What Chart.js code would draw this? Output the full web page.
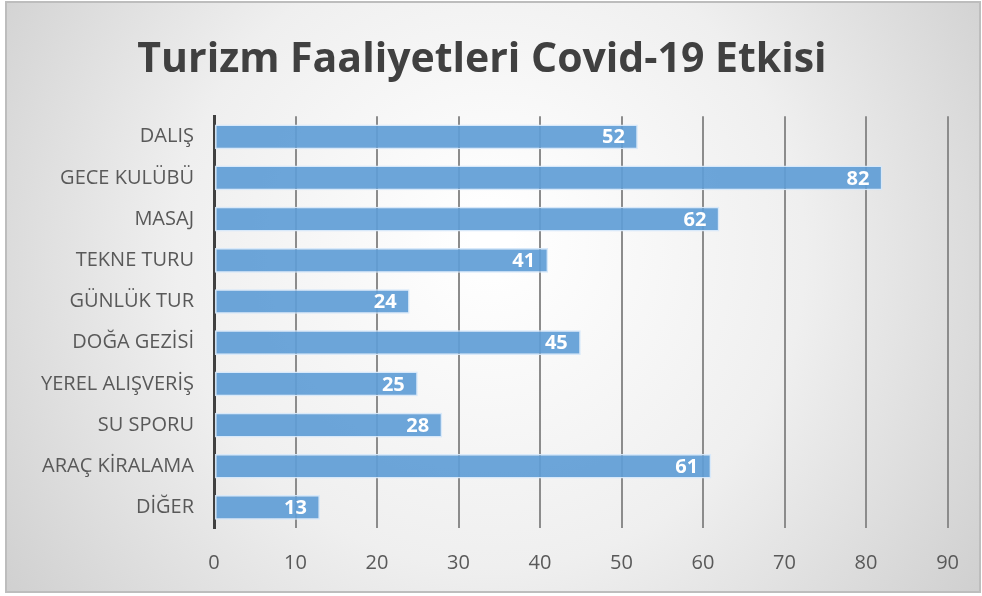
<!DOCTYPE html>
<html>
<head>
<meta charset="utf-8">
<script src="https://cdn.jsdelivr.net/npm/chart.js@4"></script>
<style>
  html, body { margin: 0; padding: 0; background: #ffffff; }
  #wrap { width: 982px; height: 596px; position: relative; }
</style>
</head>
<body>
<div id="wrap"><canvas id="chart" width="982" height="596"></canvas></div>
<script>
const categories = ["DALIŞ", "GECE KULÜBÜ", "MASAJ", "TEKNE TURU", "GÜNLÜK TUR",
    "DOĞA GEZİSİ", "YEREL ALIŞVERİŞ", "SU SPORU", "ARAÇ KİRALAMA", "DİĞER"];
const values = [52, 82, 62, 41, 24, 45, 25, 28, 61, 13];
const xTicks = [0, 10, 20, 30, 40, 50, 60, 70, 80, 90];
const chartTitle = "Turizm Faaliyetleri Covid-19 Etkisi";

// grey-to-white radial background and a thin frame
const backdrop = {
    id: "backdrop",
    beforeDraw(chart) {
        const ctx = chart.ctx;
        const w = chart.width, h = chart.height;
        ctx.save();
        const g = ctx.createRadialGradient(w * 0.5, h * 0.4, 20, w * 0.5, h * 0.45, w * 0.62);
        g.addColorStop(0, "#ffffff");
        g.addColorStop(0.5, "#efefef");
        g.addColorStop(1, "#cdcdcd");
        ctx.fillStyle = g;
        ctx.fillRect(6, 2, w - 8, h - 6);
        ctx.strokeStyle = "#bdbdbd";
        ctx.lineWidth = 2;
        ctx.strokeRect(6, 2, w - 8, h - 6);
        ctx.restore();
    }
};

// white value labels inside the end of each bar
const barLabels = {
    id: "barLabels",
    afterDatasetsDraw(chart) {
        const ctx = chart.ctx;
        const meta = chart.getDatasetMeta(0);
        ctx.save();
        ctx.font = "bold 20px 'Open Sans', sans-serif";
        ctx.fillStyle = "#ffffff";
        ctx.textAlign = "right";
        ctx.textBaseline = "middle";
        meta.data.forEach((bar, i) => {
            ctx.fillText(String(values[i]), bar.x - 13, bar.y + 1);
        });
        ctx.restore();
    }
};

new Chart(document.getElementById("chart"), {
    type: "bar",
    data: {
        labels: categories,
        datasets: [{
            data: values,
            backgroundColor: "rgba(95,157,214,0.92)",
            borderColor: "rgba(214,232,250,0.95)",
            borderWidth: 1.5,
            borderSkipped: false,
            barPercentage: 0.6,
            categoryPercentage: 1.0
        }]
    },
    options: {
        indexAxis: "y",
        responsive: false,
        animation: false,
        layout: { padding: { left: 10, right: 28, top: 20, bottom: 21 } },
        plugins: {
            legend: { display: false },
            tooltip: { enabled: false },
            title: {
                display: true,
                text: chartTitle,
                color: "#404040",
                font: { family: "'Open Sans', sans-serif", size: 41, weight: "bold" },
                padding: { top: 16, bottom: 31 }
            }
        },
        scales: {
            x: {
                min: 0,
                max: 90,
                afterBuildTicks(scale) {
                    scale.ticks = xTicks.map(v => ({ value: v }));
                },
                afterFit(scale) { scale.height = 47; },
                grid: {
                    color: "#8c8c8c",
                    lineWidth: 2,
                    drawTicks: false
                },
                border: { display: false },
                ticks: {
                    color: "#595959",
                    padding: 23,
                    font: { family: "'Open Sans', sans-serif", size: 20 }
                }
            },
            y: {
                afterFit(scale) { scale.width = 204; },
                grid: { display: false, drawTicks: false },
                border: { display: true, color: "#404040", width: 3 },
                ticks: {
                    color: "#595959",
                    padding: 20,
                    font: { family: "'Open Sans', sans-serif", size: 20 }
                }
            }
        }
    },
    plugins: [backdrop, barLabels]
});
</script>
</body>
</html>
